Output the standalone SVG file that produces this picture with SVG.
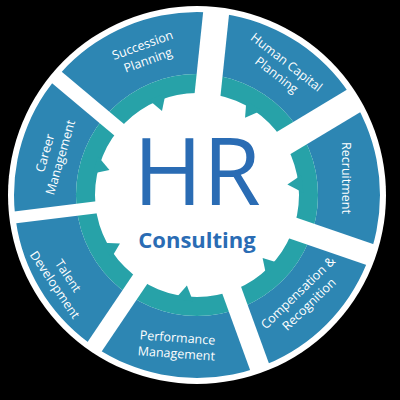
<svg xmlns="http://www.w3.org/2000/svg" xmlns:xlink="http://www.w3.org/1999/xlink" width="400" height="400" viewBox="0 0 400 400">
<style>
.blue{fill:#2d86b3}
.teal{fill:#27a2a8}
.lbl{font-family:"Open Sans","Liberation Sans",sans-serif;font-size:12.5px;fill:#ffffff;text-anchor:middle}
.hr{font-family:"Open Sans","Liberation Sans",sans-serif;fill:#2a6cb4;text-anchor:middle}
</style>
<defs>
<path id="ringBlue" fill-rule="evenodd" d="M0,-183 A183,183 0 1,1 0,183 A183,183 0 1,1 0,-183 Z M0,-121 A121,121 0 1,0 0,121 A121,121 0 1,0 0,-121 Z"/>
<path id="ringTeal" fill-rule="evenodd" d="M0,-121 A121,121 0 1,1 0,121 A121,121 0 1,1 0,-121 Z M0,-102 A102,102 0 1,0 0,102 A102,102 0 1,0 0,-102 Z"/>
<path id="tooth" d="M-1,-91 L-9,-106 L9,-106 Z"/>
<clipPath id="cSucc"><polygon points="-41.14,-44.32 -148.38,-134.31 -97.4,-241.1 7.97,-200.26 -6.66,-61.03"/></clipPath>
<clipPath id="cHC"><polygon points="19.20,-58.31 33.83,-197.54 139.7,-219.3 164.74,-114.14 44.73,-42.04"/></clipPath>
<clipPath id="cRec"><polygon points="58.13,-19.76 178.14,-91.86 258.6,-27.2 192.68,54.72 60.31,9.14"/></clipPath>
<clipPath id="cComp"><polygon points="53.15,29.94 185.52,75.52 185.5,182.2 77.8,184.52 29.92,52.96"/></clipPath>
<clipPath id="cPerf"><polygon points="11.12,59.80 59.0,191.36 -31.7,258.1 -104.79,170.55 -26.50,54.49"/></clipPath>
<clipPath id="cTal"><polygon points="-40.60,44.99 -118.89,161.05 -221.7,135.9 -197.77,30.34 -58.82,13.27"/></clipPath>
<clipPath id="cCar"><polygon points="-60.28,1.35 -199.23,18.42 -249.3,-73.8 -158.02,-122.81 -50.78,-32.82"/></clipPath>
</defs>
<rect width="400" height="400" fill="#000000"/>
<circle cx="197" cy="195" r="189" fill="#ffffff"/>
<g transform="translate(197,195)">
<g id="succession">
<g clip-path="url(#cSucc)"><use xlink:href="#ringBlue" class="blue"/><use xlink:href="#ringTeal" class="teal"/></g>
<use xlink:href="#tooth" class="teal" transform="rotate(338)"/>
</g>
<g id="human-capital">
<g clip-path="url(#cHC)"><use xlink:href="#ringBlue" class="blue"/><use xlink:href="#ringTeal" class="teal"/></g>
<use xlink:href="#tooth" class="teal" transform="rotate(32.5)"/>
</g>
<g id="recruitment">
<g clip-path="url(#cRec)"><use xlink:href="#ringBlue" class="blue"/><use xlink:href="#ringTeal" class="teal"/></g>
<use xlink:href="#tooth" class="teal" transform="rotate(84)"/>
</g>
<g id="compensation">
<g clip-path="url(#cComp)"><use xlink:href="#ringBlue" class="blue"/><use xlink:href="#ringTeal" class="teal"/></g>
<use xlink:href="#tooth" class="teal" transform="rotate(134.5)"/>
</g>
<g id="performance">
<g clip-path="url(#cPerf)"><use xlink:href="#ringBlue" class="blue"/><use xlink:href="#ringTeal" class="teal"/></g>
<use xlink:href="#tooth" class="teal" transform="rotate(187)"/>
</g>
<g id="talent">
<g clip-path="url(#cTal)"><use xlink:href="#ringBlue" class="blue"/><use xlink:href="#ringTeal" class="teal"/></g>
<use xlink:href="#tooth" class="teal" transform="rotate(238.5)"/>
</g>
<g id="career">
<g clip-path="url(#cCar)"><use xlink:href="#ringBlue" class="blue"/><use xlink:href="#ringTeal" class="teal"/></g>
<use xlink:href="#tooth" class="teal" transform="rotate(286.5)"/>
</g>
</g>
<g id="labels">
<g transform="translate(145,52) rotate(-20)"><text class="lbl" y="-3">Succession</text><text class="lbl" y="13">Planning</text></g>
<g transform="translate(282,68) rotate(38)"><text class="lbl" y="-3">Human Capital</text><text class="lbl" y="13">Planning</text></g>
<g transform="translate(346,178) rotate(90)"><text class="lbl" y="4.5">Recruitment</text></g>
<g transform="translate(303,298) rotate(-44)"><text class="lbl" y="-3">Compensation &amp;</text><text class="lbl" y="13">Recognition</text></g>
<g transform="translate(177,345) rotate(4)"><text class="lbl" y="-3">Performance</text><text class="lbl" y="13">Management</text></g>
<g transform="translate(62,280) rotate(56)"><text class="lbl" y="-3">Talent</text><text class="lbl" y="13">Development</text></g>
<g transform="translate(52,155) rotate(-74)"><text class="lbl" y="-3">Career</text><text class="lbl" y="13">Management</text></g>
</g>
<g id="center">
<text class="hr" x="197" y="205" font-size="94">HR</text>
<text class="hr" x="197" y="248" font-size="22" font-weight="700">Consulting</text>
</g>
</svg>
